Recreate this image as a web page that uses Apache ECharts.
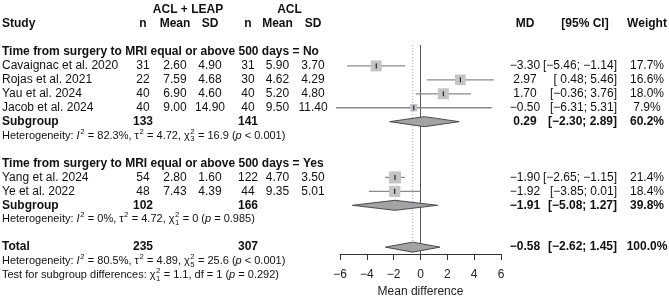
<!DOCTYPE html>
<html>
<head>
<meta charset="utf-8">
<script src="https://cdn.jsdelivr.net/npm/echarts@6/dist/echarts.min.js"></script>
<style>
  html, body { margin: 0; padding: 0; background: #fff; }
  #main { width: 669px; height: 303px; }
</style>
</head>
<body>
<div id="main"></div>
<script>
// studies
const studyLabels = ['Cavaignac et al. 2020', 'Rojas et al. 2021', 'Yau et al. 2024', 'Jacob et al. 2024', 'Yang et al. 2024', 'Ye et al. 2022'];
const studyRows = [1, 2, 3, 4, 9, 10];
const expN = [31, 22, 40, 40, 54, 48];
const expMean = [2.60, 7.59, 6.90, 9.00, 2.80, 7.43];
const expSD = [4.90, 4.68, 4.60, 14.90, 1.60, 4.39];
const ctlN = [31, 30, 40, 40, 122, 44];
const ctlMean = [5.90, 4.62, 5.20, 9.50, 4.70, 9.35];
const ctlSD = [3.70, 4.29, 4.80, 11.40, 3.50, 5.01];
const studyMD = [-3.30, 2.97, 1.70, -0.50, -1.90, -1.92];
const studyLo = [-5.46, 0.48, -0.36, -6.31, -2.65, -3.85];
const studyHi = [-1.14, 5.46, 3.76, 5.31, -1.15, 0.01];
const studyWeight = [17.7, 16.6, 18.0, 7.9, 21.4, 18.4];

// pooled rows
const poolLabels = ['Subgroup', 'Subgroup', 'Total'];
const poolRows = [5, 11, 14];
const poolExpN = [133, 102, 235];
const poolCtlN = [141, 166, 307];
const poolMD = [0.29, -1.91, -0.58];
const poolLo = [-2.30, -5.08, -2.62];
const poolHi = [2.89, 1.27, 1.45];
const poolWeight = [60.2, 39.8, 100.0];

const groupHeadings = ['Time from surgery to MRI equal or above 500 days = No', 'Time from surgery to MRI equal or above 500 days = Yes'];
const groupHeadingRows = [0, 8];

// heterogeneity statistics
const hetRows = [6, 12, 15];
const hetI2 = ['82.3%', '0%', '80.5%'];
const hetTau2 = ['4.72', '4.72', '4.89'];
const hetDf = ['3', '1', '5'];
const hetQ = ['16.9', '0', '25.6'];
const hetP = ['< 0.001', '= 0.985', '< 0.001'];

const xTicks = [-6, -4, -2, 0, 2, 4, 6];
const overallMD = -0.58;

const FONT = '"Liberation Sans", Arial, Helvetica, sans-serif';
const INK = '#111';

function fmt(v, d) {
  return (v < 0 ? '\u2212' : '') + Math.abs(v).toFixed(d);
}
function ciText(l, h) {
  return '[' + (l >= 0 ? ' ' : '') + fmt(l, 2) + '; ' + fmt(h, 2) + ']';
}

const chart = echarts.init(document.getElementById('main'));

const studyData = studyRows.map((r, i) => [studyMD[i], r, studyLo[i], studyHi[i], studyWeight[i]]);
const poolData = poolRows.map((r, i) => [poolMD[i], r, poolLo[i], poolHi[i]]);

chart.setOption({
  animation: false,
  backgroundColor: '#fff',
  grid: { left: 340, right: 168, top: 45, bottom: 42 },
  xAxis: {
    type: 'value',
    min: xTicks[0],
    max: xTicks[xTicks.length - 1],
    interval: 2,
    splitLine: { show: false },
    axisLine: { onZero: false, lineStyle: { color: '#333', width: 1 } },
    axisTick: { length: 6, lineStyle: { color: '#333' } },
    axisLabel: {
      margin: 15, fontSize: 12, fontFamily: FONT, color: '#222',
      formatter: v => fmt(v, 0)
    },
    name: 'Mean difference',
    nameLocation: 'middle',
    nameGap: 28,
    nameTextStyle: { fontSize: 12, fontFamily: FONT, color: '#222' }
  },
  yAxis: { type: 'value', min: -0.5, max: 14.5, inverse: true, show: false },
  series: [
    {
      // reference lines
      type: 'custom',
      clip: false,
      silent: true,
      data: [[0]],
      renderItem: (params, api) => {
        const top = api.coord([0, -0.5]);
        const bottom = api.coord([0, 14.5]);
        const o1 = api.coord([overallMD, -0.5]);
        const o2 = api.coord([overallMD, poolRows[2]]);
        return {
          type: 'group',
          children: [
            { type: 'line', shape: { x1: top[0], y1: top[1], x2: bottom[0], y2: bottom[1] }, style: { stroke: '#555', lineWidth: 1 } },
            { type: 'line', shape: { x1: o1[0], y1: o1[1], x2: o2[0], y2: o2[1] - 5 }, style: { stroke: '#9ea2dc', lineWidth: 1, lineDash: [1, 2] } }
          ]
        };
      }
    },
    {
      // study estimates
      type: 'custom',
      clip: false,
      silent: true,
      data: studyData,
      renderItem: (params, api) => {
        const row = api.value(1);
        const p = api.coord([api.value(0), row]);
        const l = api.coord([api.value(2), row]);
        const h = api.coord([api.value(3), row]);
        const s = 2.6 * Math.sqrt(api.value(4));
        return {
          type: 'group',
          children: [
            { type: 'line', shape: { x1: l[0], y1: p[1], x2: h[0], y2: p[1] }, style: { stroke: '#8a8a8a', lineWidth: 1.3 } },
            { type: 'rect', shape: { x: p[0] - s / 2, y: p[1] - s / 2, width: s, height: s }, style: { fill: '#c4c4c4' } },
            { type: 'line', shape: { x1: p[0], y1: p[1] - 2.5, x2: p[0], y2: p[1] + 2.5 }, style: { stroke: '#000', lineWidth: 1 } }
          ]
        };
      }
    },
    {
      // pooled diamonds
      type: 'custom',
      clip: false,
      silent: true,
      data: poolData,
      renderItem: (params, api) => {
        const row = api.value(1);
        const p = api.coord([api.value(0), row]);
        const l = api.coord([api.value(2), row]);
        const h = api.coord([api.value(3), row]);
        return {
          type: 'polygon',
          shape: { points: [[l[0], p[1]], [p[0], p[1] - 5], [h[0], p[1]], [p[0], p[1] + 5]] },
          style: { fill: '#a3a3a3', stroke: '#4a4a4a', lineWidth: 1 }
        };
      }
    }
  ]
});

// ---- table text ----
const rowY = r => chart.convertToPixel({ gridIndex: 0 }, [0, r])[1];
const measureCtx = document.createElement('canvas').getContext('2d');

function txt(x, y, s, opt) {
  opt = opt || {};
  return {
    type: 'text',
    x: x, y: y,
    silent: true,
    style: {
      text: s,
      fill: opt.color || INK,
      fontSize: opt.size || 12,
      fontFamily: FONT,
      fontWeight: opt.bold ? 'bold' : 'normal',
      fontStyle: opt.italic ? 'italic' : 'normal',
      align: opt.align || 'left',
      textAlign: opt.align || 'left',
      verticalAlign: 'middle',
      textVerticalAlign: 'middle'
    }
  };
}

// line with italic letters and super/subscripts
function mathLine(x, y, segs, size) {
  const out = [];
  let cx = x;
  const small = size * 0.7;
  segs.forEach(seg => {
    if (seg.t != null) {
      measureCtx.font = (seg.it ? 'italic ' : '') + size + 'px ' + FONT;
      out.push(txt(cx, y, seg.t, { size: size, italic: seg.it }));
      cx += measureCtx.measureText(seg.t).width;
    } else {
      measureCtx.font = small + 'px ' + FONT;
      let w = 0;
      if (seg.sup) {
        out.push(txt(cx + 0.5, y - size * 0.38, seg.sup, { size: small }));
        w = Math.max(w, measureCtx.measureText(seg.sup).width);
      }
      if (seg.sub) {
        out.push(txt(cx + 0.5, y + size * 0.32, seg.sub, { size: small }));
        w = Math.max(w, measureCtx.measureText(seg.sub).width);
      }
      cx += w + 0.8;
    }
  });
  return out;
}

const colX = { study: 2, n1: 143, m1: 175, s1: 210, n2: 248, m2: 277.5, s2: 313, md: 525, ci: 617, ciHead: 585, w: 647 };
const els = [];

// headers
els.push(txt(188, rowY(-3), 'ACL + LEAP', { bold: true, align: 'center' }));
els.push(txt(289.5, rowY(-3), 'ACL', { bold: true, align: 'center' }));
const hy = rowY(-2);
els.push(txt(colX.study, hy, 'Study', { bold: true }));
els.push(txt(colX.n1, hy, 'n', { bold: true, align: 'center' }));
els.push(txt(colX.m1, hy, 'Mean', { bold: true, align: 'center' }));
els.push(txt(colX.s1, hy, 'SD', { bold: true, align: 'center' }));
els.push(txt(colX.n2, hy, 'n', { bold: true, align: 'center' }));
els.push(txt(colX.m2, hy, 'Mean', { bold: true, align: 'center' }));
els.push(txt(colX.s2, hy, 'SD', { bold: true, align: 'center' }));
els.push(txt(colX.md, hy, 'MD', { bold: true, align: 'center' }));
els.push(txt(colX.ciHead, hy, '[95% CI]', { bold: true, align: 'center' }));
els.push(txt(colX.w, hy, 'Weight', { bold: true, align: 'center' }));

groupHeadings.forEach((h, i) => els.push(txt(colX.study, rowY(groupHeadingRows[i]), h, { bold: true })));

studyRows.forEach((r, i) => {
  const y = rowY(r);
  els.push(txt(colX.study, y, studyLabels[i]));
  els.push(txt(colX.n1, y, String(expN[i]), { align: 'center' }));
  els.push(txt(colX.m1, y, expMean[i].toFixed(2), { align: 'center' }));
  els.push(txt(colX.s1, y, expSD[i].toFixed(2), { align: 'center' }));
  els.push(txt(colX.n2, y, String(ctlN[i]), { align: 'center' }));
  els.push(txt(colX.m2, y, ctlMean[i].toFixed(2), { align: 'center' }));
  els.push(txt(colX.s2, y, ctlSD[i].toFixed(2), { align: 'center' }));
  els.push(txt(colX.md, y, fmt(studyMD[i], 2), { align: 'center' }));
  els.push(txt(colX.ci, y, ciText(studyLo[i], studyHi[i]), { align: 'right' }));
  els.push(txt(colX.w, y, studyWeight[i].toFixed(1) + '%', { align: 'center' }));
});

poolRows.forEach((r, i) => {
  const y = rowY(r);
  els.push(txt(colX.study, y, poolLabels[i], { bold: true }));
  els.push(txt(colX.n1, y, String(poolExpN[i]), { bold: true, align: 'center' }));
  els.push(txt(colX.n2, y, String(poolCtlN[i]), { bold: true, align: 'center' }));
  els.push(txt(colX.md, y, fmt(poolMD[i], 2), { bold: true, align: 'center' }));
  els.push(txt(colX.ci, y, ciText(poolLo[i], poolHi[i]), { bold: true, align: 'right' }));
  els.push(txt(colX.w, y, poolWeight[i].toFixed(1) + '%', { bold: true, align: 'center' }));
});

const HS = 11;
hetRows.forEach((r, i) => {
  mathLine(2, rowY(r), [
    { t: 'Heterogeneity: ' }, { t: 'I', it: true }, { sup: '2' }, { t: ' = ' + hetI2[i] + ', \u03c4' },
    { sup: '2' }, { t: ' = ' + hetTau2[i] + ', \u03c7' }, { sup: '2', sub: hetDf[i] },
    { t: ' = ' + hetQ[i] + ' (' }, { t: 'p', it: true }, { t: ' ' + hetP[i] + ')' }
  ], HS).forEach(e => els.push(e));
});
mathLine(2, rowY(16), [
  { t: 'Test for subgroup differences: \u03c7' }, { sup: '2', sub: '1' },
  { t: ' = 1.1, df = 1 (' }, { t: 'p', it: true }, { t: ' = 0.292)' }
], HS).forEach(e => els.push(e));

chart.setOption({ graphic: { elements: els } });
</script>
</body>
</html>
